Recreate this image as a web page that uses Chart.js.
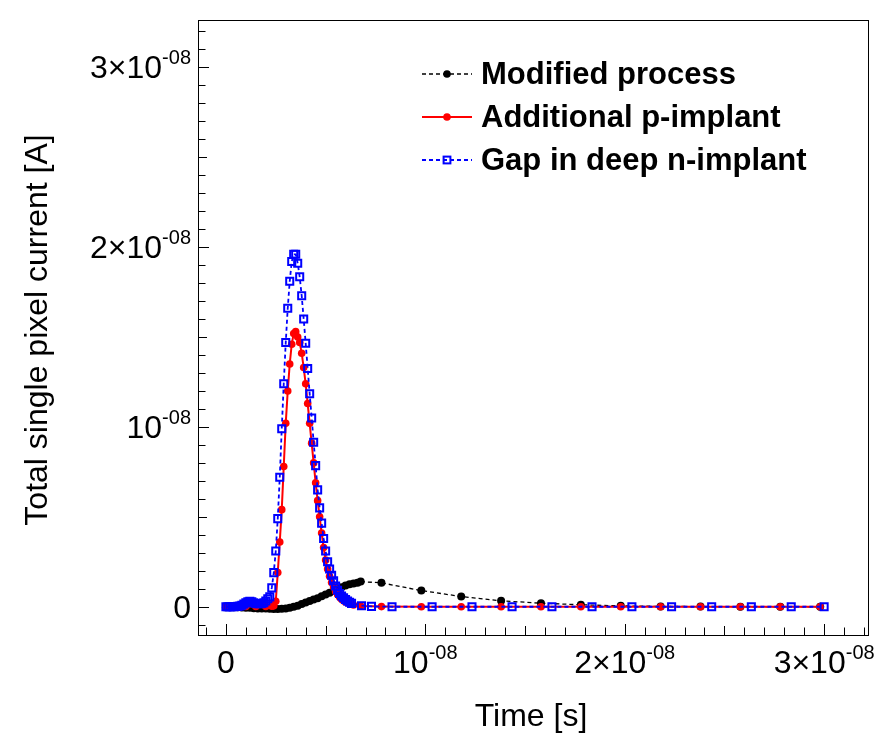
<!DOCTYPE html>
<html>
<head>
<meta charset="utf-8">
<script src="https://cdn.jsdelivr.net/npm/chart.js"></script>
<style>
  body { margin: 0; background: #fff; }
  #wrap { width: 888px; height: 755px; }
</style>
</head>
<body>
<div id="wrap"><canvas id="chart" width="888" height="755"></canvas></div>
<script>
// time in ns, current in nA (axis labels show the values in s and A)
const blackTime = [0, 0.2, 0.4, 0.6, 0.8, 1.0, 1.2, 1.4, 1.6, 1.8, 2.0, 2.2, 2.4, 2.6, 2.8, 3.0, 3.2, 3.4, 3.6, 3.8,
    4.0, 4.2, 4.4, 4.6, 4.8, 5.0, 5.2, 5.4, 5.6, 5.8, 6.0, 6.2, 6.4, 6.6, 6.76, 7.8, 9.8, 11.8, 13.8, 15.8,
    17.8, 19.8, 21.8, 23.8, 25.8, 27.8, 29.8];
const blackCurrent = [-0.02, -0.02, -0.03, -0.03, -0.04, -0.05, -0.06, -0.08, -0.09, -0.1, -0.1, -0.11, -0.12, -0.12, -0.11, -0.09, -0.05, 0.0, 0.06, 0.15,
    0.24, 0.32, 0.40, 0.48, 0.58, 0.68, 0.78, 0.88, 0.98, 1.09, 1.18, 1.25, 1.3, 1.34, 1.4, 1.33, 0.9, 0.57, 0.33, 0.2,
    0.11, 0.05, 0.02, 0.01, 0, 0, 0];

const redTime = [0, 0.5, 1.0, 1.5, 2.0, 2.3, 2.4, 2.5, 2.6, 2.7, 2.8, 2.9, 3.0, 3.1, 3.2, 3.3, 3.4, 3.5, 3.6, 3.7,
    3.8, 3.9, 4.0, 4.1, 4.2, 4.3, 4.4, 4.5, 4.6, 4.7, 4.8, 4.9, 5.0, 5.1, 5.2, 5.3, 5.4, 5.5, 5.6, 5.7,
    5.8, 5.9, 6.0, 6.2, 6.4, 6.76, 7.8, 9.8, 11.8, 13.8, 15.8, 17.8, 19.8, 21.8, 23.8, 25.8, 27.8, 29.8];
const redCurrent = [0, 0.01, 0.02, 0.02, 0.02, 0.03, 0.05, 0.3, 1.9, 3.6, 5.4, 7.8, 10.2, 12.0, 13.5, 14.6, 15.2, 15.3, 15.0, 14.7,
    14.1, 13.3, 12.4, 11.3, 10.2, 9.1, 8.0, 6.9, 5.9, 5.0, 4.1, 3.3, 2.6, 2.1, 1.7, 1.35, 1.1, 0.85, 0.68, 0.55,
    0.42, 0.33, 0.26, 0.15, 0.1, 0.04, 0.01, 0, 0, 0, 0, 0, 0, 0, 0, 0, 0, 0];

const blueTime = [0, 0.1, 0.2, 0.3, 0.4, 0.5, 0.6, 0.7, 0.8, 0.9, 1.0, 1.1, 1.2, 1.3, 1.4, 1.5, 1.6, 1.7, 1.8, 1.9,
    2.0, 2.1, 2.2, 2.3, 2.4, 2.5, 2.6, 2.7, 2.8, 2.9, 3.0, 3.1, 3.2, 3.3, 3.4, 3.5, 3.6, 3.7, 3.8, 3.9,
    4.0, 4.1, 4.2, 4.3, 4.4, 4.5, 4.6, 4.7, 4.8, 4.9, 5.0, 5.1, 5.2, 5.3, 5.4, 5.5, 5.6, 5.7, 5.8, 5.9,
    6.0, 6.1, 6.2, 6.3, 6.8, 7.3, 8.33, 10.34, 12.34, 14.35, 16.35, 18.36, 20.36, 22.35, 24.36, 26.35, 28.35, 30.0];
const blueCurrent = [0, 0, 0, 0, 0, 0.01, 0.02, 0.04, 0.08, 0.15, 0.22, 0.28, 0.3, 0.28, 0.22, 0.18, 0.17, 0.17, 0.18, 0.22,
    0.32, 0.45, 0.55, 1.05, 1.9, 3.1, 4.9, 7.2, 9.9, 12.4, 14.7, 16.6, 18.1, 19.2, 19.6, 19.6, 19.1, 18.35, 17.3, 16.0,
    14.65, 13.25, 11.85, 10.5, 9.15, 7.85, 6.5, 5.5, 4.65, 3.8, 3.1, 2.5, 2.1, 1.75, 1.45, 1.15, 0.92, 0.74, 0.6, 0.5,
    0.4, 0.32, 0.25, 0.19, 0.06, 0.02, 0, 0, 0, 0, 0, 0, 0, 0, 0, 0, 0, 0];

const seriesNames = ['Modified process', 'Additional p-implant', 'Gap in deep n-implant'];

const xTickValues = [0, 10, 20, 30];
const xTickLabels = ['0', '10^-08', '2×10^-08', '3×10^-08'];
const yTickValues = [0, 10, 20, 30];
const yTickLabels = ['0', '10^-08', '2×10^-08', '3×10^-08'];

const FONT = "'Liberation Sans', Arial, sans-serif";

function pts(t, v) {
    return t.map((x, i) => ({ x: x, y: v[i] }));
}

// label like "2×10^-08" -> base text + superscript
function drawSci(ctx, label, x, y, align) {
    const parts = label.split('^');
    ctx.font = '32px ' + FONT;
    const wBase = ctx.measureText(parts[0]).width;
    let wSup = 0;
    if (parts[1]) {
        ctx.font = '20px ' + FONT;
        wSup = ctx.measureText(parts[1]).width;
    }
    const w = wBase + wSup;
    let sx = align === 'right' ? x - w : x - w / 2;
    ctx.textAlign = 'left';
    ctx.textBaseline = 'alphabetic';
    ctx.font = '32px ' + FONT;
    ctx.fillText(parts[0], sx, y + 11);
    if (parts[1]) {
        ctx.font = '20px ' + FONT;
        ctx.fillText(parts[1], sx + wBase, y - 3);
    }
}

function marker(ctx, style, color, x, y) {
    ctx.save();
    if (style === 'rect') {
        ctx.strokeStyle = color;
        ctx.lineWidth = 2;
        ctx.strokeRect(x - 3.4, y - 3.4, 6.8, 6.8);
    } else {
        ctx.fillStyle = color;
        ctx.beginPath();
        ctx.arc(x, y, 3.8, 0, Math.PI * 2);
        ctx.fill();
    }
    ctx.restore();
}

const framePlugin = {
    id: 'frame',
    afterDraw(chart) {
        const ctx = chart.ctx;
        const a = chart.chartArea;
        const xs = chart.scales.x, ys = chart.scales.y;
        ctx.save();
        ctx.strokeStyle = '#000';
        ctx.lineWidth = 1;
        ctx.strokeRect(Math.round(a.left) + 0.5, Math.round(a.top) + 0.5, Math.round(a.right - a.left), Math.round(a.bottom - a.top));

        // ticks pointing inwards, bottom and left only
        ctx.beginPath();
        for (let v = -1; v <= 32; v++) {
            const px = Math.round(xs.getPixelForValue(v)) + 0.5;
            if (px < a.left || px > a.right) continue;
            const len = v % 10 === 0 ? 11 : (v % 5 === 0 ? 9 : 7.5);
            ctx.moveTo(px, a.bottom);
            ctx.lineTo(px, a.bottom - len);
        }
        for (let v = -1; v <= 32; v++) {
            const py = Math.round(ys.getPixelForValue(v)) + 0.5;
            if (py < a.top || py > a.bottom) continue;
            const len = v % 10 === 0 ? 11 : (v % 5 === 0 ? 9 : 7.5);
            ctx.moveTo(a.left, py);
            ctx.lineTo(a.left + len, py);
        }
        ctx.stroke();

        ctx.fillStyle = '#000';
        xTickValues.forEach((v, i) => {
            drawSci(ctx, xTickLabels[i], xs.getPixelForValue(v), 662, 'center');
        });
        yTickValues.forEach((v, i) => {
            drawSci(ctx, yTickLabels[i], a.left - 7, ys.getPixelForValue(v), 'right');
        });

        // axis titles
        ctx.font = '32px ' + FONT;
        ctx.textAlign = 'center';
        ctx.textBaseline = 'middle';
        ctx.fillText('Time [s]', 531, 717);
        ctx.save();
        ctx.translate(38, 330);
        ctx.rotate(-Math.PI / 2);
        ctx.fillText('Total single pixel current [A]', 0, 0);
        ctx.restore();

        // legend
        const legendY = [74, 117, 160];
        chart.data.datasets.forEach((ds, i) => {
            const y = legendY[i];
            ctx.save();
            ctx.strokeStyle = ds.borderColor;
            ctx.lineWidth = ds.borderWidth;
            ctx.setLineDash(ds.borderDash || []);
            ctx.beginPath();
            ctx.moveTo(422, y);
            ctx.lineTo(472, y);
            ctx.stroke();
            ctx.restore();
            marker(ctx, ds.pointStyle, ds.borderColor, 447, y);
            ctx.font = 'bold 31px ' + FONT;
            ctx.textAlign = 'left';
            ctx.textBaseline = 'middle';
            ctx.fillStyle = '#000';
            ctx.fillText(ds.label, 481, y + 1);
        });
        ctx.restore();
    }
};

new Chart(document.getElementById('chart'), {
    type: 'line',
    data: {
        datasets: [
            {
                label: seriesNames[0],
                data: pts(blackTime, blackCurrent),
                borderColor: '#000',
                backgroundColor: '#000',
                borderWidth: 1.3,
                borderDash: [4, 3],
                pointStyle: 'circle',
                pointRadius: 4,
                pointBorderWidth: 0,
                order: 3
            },
            {
                label: seriesNames[1],
                data: pts(redTime, redCurrent),
                borderColor: '#ff0000',
                backgroundColor: '#ff0000',
                borderWidth: 2,
                pointStyle: 'circle',
                pointRadius: 3.8,
                pointBorderWidth: 0,
                order: 2
            },
            {
                label: seriesNames[2],
                data: pts(blueTime, blueCurrent),
                borderColor: '#0000ff',
                backgroundColor: 'rgba(0,0,0,0)',
                borderWidth: 1.8,
                borderDash: [4, 3],
                pointStyle: 'rect',
                pointRadius: 5,
                pointBorderWidth: 2,
                order: 1
            }
        ]
    },
    options: {
        responsive: false,
        animation: false,
        devicePixelRatio: 1,
        layout: { padding: { left: 198, right: 20, top: 20, bottom: 120 } },
        scales: {
            x: { type: 'linear', min: -1.4, max: 32.2, display: false },
            y: { type: 'linear', min: -1.57, max: 32.63, display: false }
        },
        elements: { line: { tension: 0 } },
        plugins: {
            legend: { display: false },
            tooltip: { enabled: false }
        }
    },
    plugins: [framePlugin]
});
</script>
</body>
</html>
